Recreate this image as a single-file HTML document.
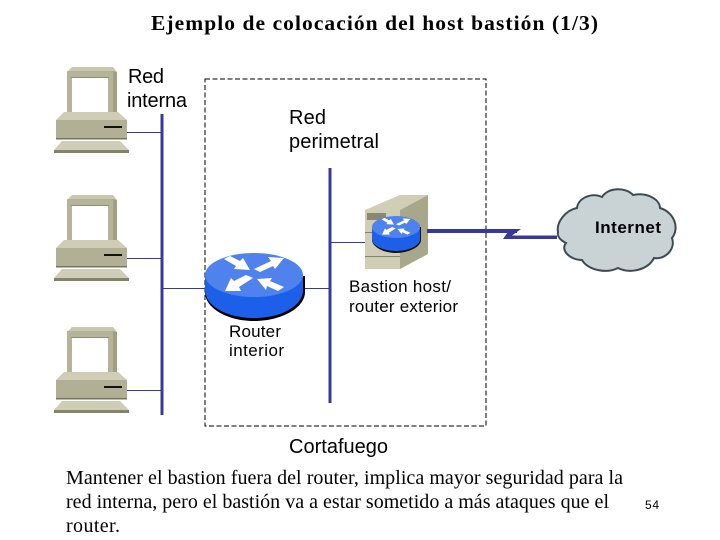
<!DOCTYPE html>
<html>
<head>
<meta charset="utf-8">
<style>
html,body{margin:0;padding:0;background:#fff}
svg{display:block}
.s{font-family:"Liberation Sans",sans-serif;fill:#000}
.t{font-family:"Liberation Serif",serif;fill:#000}
</style>
</head>
<body>
<svg width="720" height="540" viewBox="0 0 720 540" xmlns="http://www.w3.org/2000/svg">
<defs>
<g id="pc">
  <polygon points="67,72 72,67 113,67 117,72" fill="#c9c7ae"/>
  <rect x="67" y="71" width="46" height="41" fill="#b5b39a"/>
  <polygon points="113,71 117,72 117,112 113,112" fill="#a09e84"/>
  <rect x="72" y="78" width="36" height="34" fill="#fff"/>
  <rect x="71" y="77" width="38" height="1" fill="#8f8d72"/>
  <polygon points="64,112 118,112 127,120 56,120" fill="#cfcdb6"/>
  <rect x="56" y="120" width="71" height="19" fill="#b2b094"/>
  <rect x="56" y="138" width="71" height="1.500" fill="#75745c"/>
  <rect x="104" y="126" width="18" height="2" fill="#111"/>
  <polygon points="62,141 120,141 129,150 54,150" fill="#cfcdb6"/>
  <rect x="54" y="150" width="75" height="3" fill="#85836a"/>
</g>
<g id="arrows" fill="#fff">
  <polygon points="-30,-16 -24,-19 -14,-14 -11,-17 -4,-5 -20,-6 -18,-9"/>
  <polygon points="0,-6 6,-3 19,-9 21,-6 30,-17 14,-18 17,-14"/>
  <polygon points="-1,3 -8,0 -20,6 -23,3 -29,16 -13,16 -15,12"/>
  <polygon points="30,12 24,16 13,11 12,15 3,4 18,3 16,6"/>
</g>
</defs>

<text x="151" y="30" class="t" font-size="21.500" font-weight="bold" textLength="447">Ejemplo de colocación del host bastión (1/3)</text>

<rect x="205" y="79" width="281" height="347" fill="none" stroke="#000" stroke-width="1" stroke-dasharray="5,2.5"/>

<rect x="160.500" y="114" width="3" height="301" fill="#38389c"/>
<rect x="328.500" y="168" width="3" height="235" fill="#38389c"/>
<line x1="127" y1="132.500" x2="161" y2="132.500" stroke="#38389c"/>
<line x1="127" y1="258.500" x2="161" y2="258.500" stroke="#38389c"/>
<line x1="127" y1="390.500" x2="161" y2="390.500" stroke="#38389c"/>
<line x1="163" y1="288.500" x2="205" y2="288.500" stroke="#38389c"/>
<line x1="303" y1="288.500" x2="329" y2="288.500" stroke="#38389c"/>
<line x1="331" y1="242.500" x2="366" y2="242.500" stroke="#38389c"/>

<use href="#pc"/>
<use href="#pc" transform="translate(0,128)"/>
<use href="#pc" transform="translate(0,260)"/>

<!-- Router interior -->
<path d="M205,276 V292 C205,308 227,321 254,321 C281,321 305,308 305,292 V276 Z" fill="#000"/>
<path d="M205,276 V290 C205,306 227,318 254,318 C281,318 303,306 303,290 V276 Z" fill="#1c5fe8"/>
<ellipse cx="254" cy="275" rx="49" ry="22" fill="#5082ee"/>
<use href="#arrows" transform="translate(254,275)"/>

<!-- Bastion server -->
<polygon points="365,210 400,195 428,195 400,210" fill="#d0ceb6"/>
<polygon points="365,210 400,210 400,269 365,269" fill="#cfcdb6"/>
<polygon points="400,210 428,195 428,254 400,269" fill="#a9a78a"/>
<rect x="367" y="213" width="19" height="7" fill="#8a8870"/>
<line x1="365" y1="256.500" x2="400" y2="256.500" stroke="#85836a"/>
<line x1="365" y1="232.500" x2="375" y2="232.500" stroke="#85836a"/>
<path d="M372,227 V240 C372,247 384,253 396,253 C408,253 421,247 421,240 V227 Z" fill="#111"/>
<path d="M372,227 V239 C372,246 384,251 396,251 C408,251 420,246 420,239 V227 Z" fill="#1c5fe8"/>
<ellipse cx="396" cy="227" rx="24" ry="11" fill="#5082ee"/>
<use href="#arrows" transform="translate(396,227) scale(.48)"/>

<!-- Internet link -->
<rect x="427" y="229" width="90" height="4" fill="#38389c"/>
<polygon points="510,229 521,229 512,235.500 557,235.500 557,239 503,239" fill="#38389c"/>

<!-- Cloud -->
<path d="M558,232 C556,222 566,210 577,208 C578,198 592,192 602,197 C608,187 626,187 633,195 C648,192 660,200 660,208 C674,212 680,228 672,238 C676,250 664,260 654,258 C648,270 630,274 618,268 C606,274 588,270 582,260 C570,260 560,250 566,243 C560,240 557,236 558,232Z" fill="#c9d3d6" stroke="#3d4a52" stroke-width="2"/>

<text x="595" y="233" class="s" font-size="17" font-weight="bold" textLength="66">Internet</text>

<text x="128" y="83" class="s" font-size="20" textLength="36">Red</text>
<text x="127" y="107" class="s" font-size="20" textLength="60">interna</text>
<text x="289" y="124" class="s" font-size="20" textLength="37">Red</text>
<text x="289" y="148" class="s" font-size="20" textLength="90">perimetral</text>
<text x="349" y="292" class="s" font-size="17" textLength="102">Bastion host/</text>
<text x="349" y="312" class="s" font-size="17" textLength="109">router exterior</text>
<text x="229" y="337" class="s" font-size="17" textLength="52">Router</text>
<text x="229" y="356" class="s" font-size="17" textLength="55">interior</text>
<text x="289" y="453" class="s" font-size="20" textLength="99">Cortafuego</text>

<text x="66" y="484" class="t" font-size="20" textLength="557">Mantener el bastion fuera del router, implica mayor seguridad para la</text>
<text x="66" y="508" class="t" font-size="20" textLength="543">red interna, pero el bastión va a estar sometido a más ataques que el</text>
<text x="66" y="532" class="t" font-size="20" textLength="54">router.</text>
<text x="645" y="509" class="s" font-size="12" textLength="14">54</text>
</svg>
</body>
</html>
